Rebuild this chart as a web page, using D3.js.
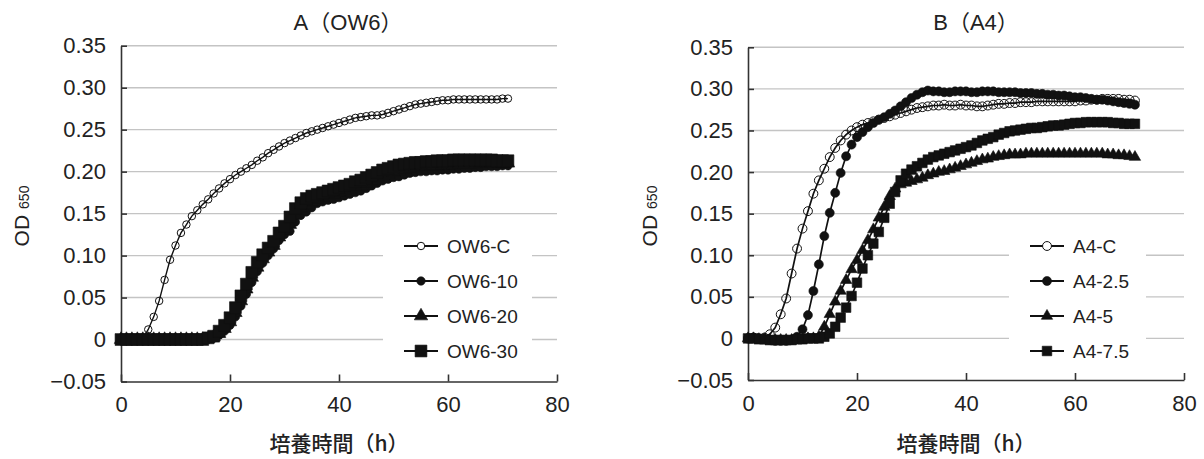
<!DOCTYPE html>
<html>
<head>
<meta charset="utf-8">
<script src="https://cdn.jsdelivr.net/npm/d3@7"></script>
<style>
  body { margin: 0; background: #fff; }
  svg text { font-family: "Liberation Sans", Arial, Helvetica, sans-serif; fill: #222; }
  .cjk { font-family: "Liberation Sans", "Noto Sans CJK JP", sans-serif; }
</style>
</head>
<body>
<svg id="chart" width="1204" height="459"></svg>
<script>
// Sampling times (h)
const hours = [0,1,2,3,4,5,6,7,8,9,10,11,12,13,14,15,16,17,18,19,20,21,22,23,24,25,26,27,28,29,30,31,32,33,34,35,
  36,37,38,39,40,41,42,43,44,45,46,47,48,49,50,51,52,53,54,55,56,57,58,59,60,61,62,63,64,65,66,67,68,69,70,71];

const xTicks = [0, 20, 40, 60, 80];
const yTicks = [-0.05, 0, 0.05, 0.10, 0.15, 0.20, 0.25, 0.30, 0.35];
const yTickLabels = ["\u22120.05", "0", "0.05", "0.10", "0.15", "0.20", "0.25", "0.30", "0.35"];

// Panel A : strain OW6
const ow6C = [0.000,0.000,0.000,0.000,0.001,0.012,0.027,0.046,0.071,0.095,0.112,0.127,0.137,0.147,0.154,0.161,0.167,0.174,
  0.180,0.186,0.191,0.196,0.200,0.204,0.208,0.213,0.217,0.222,0.226,0.230,0.234,0.237,0.240,0.243,0.246,0.248,
  0.250,0.252,0.254,0.256,0.258,0.260,0.262,0.264,0.265,0.266,0.267,0.267,0.268,0.270,0.272,0.274,0.276,0.278,
  0.280,0.281,0.282,0.283,0.284,0.285,0.285,0.286,0.286,0.286,0.286,0.286,0.286,0.286,0.286,0.286,0.287,0.287];
const ow610 = [0,0,0,0,0,0,0,0,0,0,0,0,0,0,0,0,0.001,0.002,
  0.005,0.010,0.017,0.027,0.040,0.054,0.068,0.081,0.091,0.100,0.108,0.118,0.125,0.129,0.140,0.148,0.152,0.157,
  0.162,0.164,0.166,0.167,0.169,0.171,0.173,0.175,0.177,0.180,0.183,0.186,0.189,0.191,0.193,0.194,0.196,0.198,
  0.199,0.200,0.200,0.201,0.201,0.202,0.202,0.203,0.203,0.204,0.204,0.205,0.205,0.206,0.206,0.206,0.207,0.207];
const ow620 = [0,0,0,0,0,0,0,0,0,0,0,0,0,0,0,0,0.001,0.003,
  0.007,0.013,0.021,0.032,0.046,0.060,0.074,0.086,0.096,0.104,0.112,0.122,0.130,0.137,0.148,0.156,0.160,0.164,
  0.167,0.170,0.172,0.173,0.175,0.177,0.179,0.181,0.183,0.186,0.189,0.192,0.195,0.197,0.199,0.201,0.202,0.204,
  0.205,0.206,0.206,0.207,0.207,0.208,0.208,0.208,0.209,0.209,0.209,0.209,0.210,0.210,0.210,0.210,0.210,0.210];
const ow630 = [0,0,0,0,0,0,0,0,0,0,0,0,0,0,0,0,0.002,0.004,
  0.010,0.017,0.026,0.038,0.052,0.066,0.080,0.092,0.101,0.109,0.117,0.127,0.135,0.146,0.156,0.163,0.168,0.171,
  0.173,0.175,0.177,0.179,0.181,0.183,0.185,0.188,0.190,0.193,0.196,0.199,0.202,0.204,0.206,0.208,0.209,0.210,
  0.211,0.211,0.212,0.212,0.213,0.213,0.213,0.214,0.214,0.214,0.214,0.214,0.214,0.214,0.214,0.213,0.213,0.213];

// Panel B : strain A4
const a4C = [0.000,0.001,0.000,0.001,0.005,0.013,0.029,0.048,0.078,0.108,0.132,0.153,0.174,0.190,0.204,0.218,0.229,0.238,
  0.245,0.250,0.254,0.257,0.259,0.261,0.263,0.265,0.267,0.269,0.271,0.273,0.275,0.277,0.278,0.279,0.280,0.280,
  0.281,0.280,0.280,0.281,0.280,0.280,0.279,0.279,0.280,0.281,0.282,0.282,0.283,0.283,0.284,0.284,0.284,0.285,
  0.285,0.285,0.285,0.285,0.285,0.285,0.285,0.286,0.286,0.287,0.287,0.288,0.288,0.288,0.288,0.287,0.287,0.286];
const a425 = [0.000,0.001,0.000,-0.001,-0.002,-0.003,-0.003,-0.003,-0.002,0.002,0.011,0.028,0.057,0.089,0.123,0.151,0.175,0.199,
  0.219,0.233,0.242,0.248,0.254,0.259,0.263,0.266,0.270,0.274,0.279,0.284,0.289,0.293,0.296,0.298,0.297,0.297,
  0.296,0.296,0.297,0.297,0.297,0.296,0.296,0.297,0.297,0.297,0.296,0.296,0.296,0.296,0.295,0.295,0.295,0.294,
  0.294,0.293,0.293,0.292,0.292,0.291,0.290,0.290,0.289,0.288,0.287,0.287,0.286,0.285,0.284,0.283,0.282,0.281];
const a45 = [0.000,0.000,-0.001,-0.001,-0.002,-0.002,-0.002,-0.002,-0.002,-0.001,-0.001,0.000,0.000,0.002,0.014,0.029,0.044,0.057,
  0.070,0.083,0.094,0.106,0.118,0.131,0.145,0.158,0.171,0.180,0.185,0.187,0.189,0.191,0.193,0.196,0.198,0.200,
  0.201,0.203,0.205,0.207,0.209,0.211,0.213,0.215,0.216,0.218,0.219,0.220,0.221,0.221,0.221,0.222,0.222,0.222,
  0.222,0.222,0.222,0.222,0.222,0.222,0.222,0.222,0.222,0.222,0.222,0.222,0.221,0.221,0.220,0.220,0.219,0.218];
const a475 = [0.000,0.000,-0.001,-0.001,-0.002,-0.002,-0.002,-0.002,-0.002,-0.001,-0.001,0.000,0.000,0.000,0.002,0.006,0.014,0.025,
  0.037,0.051,0.067,0.084,0.100,0.114,0.128,0.145,0.162,0.176,0.190,0.198,0.203,0.207,0.211,0.215,0.218,0.220,
  0.222,0.224,0.226,0.228,0.230,0.232,0.235,0.238,0.240,0.242,0.245,0.247,0.249,0.250,0.251,0.252,0.253,0.253,
  0.254,0.255,0.256,0.256,0.257,0.258,0.259,0.259,0.260,0.260,0.260,0.260,0.260,0.259,0.259,0.258,0.258,0.258];

const panels = [
  {
    title: "A\uFF08OW6\uFF09",
    xRange: [121, 557], yRange: [381.5, 45.7],
    yLabelX: 29, titleX: 348,
    legend: { x: 383, w: 149, y: 226, h: 140, lineX: 404, rowY: [246, 281, 316, 351] },
    lineWidth: 1.4,
    series: [
      { name: "OW6-C",  values: ow6C,  shape: "open",     size: 44 },
      { name: "OW6-10", values: ow610, shape: "circle",   size: 56 },
      { name: "OW6-20", values: ow620, shape: "triangle", size: 78 },
      { name: "OW6-30", values: ow630, shape: "square",   size: 140 }
    ]
  },
  {
    title: "B\uFF08A4\uFF09",
    xRange: [748, 1184], yRange: [380, 47.3],
    yLabelX: 657, titleX: 976,
    legend: { x: 1009, w: 137, y: 226, h: 140, lineX: 1030, rowY: [246, 281, 316, 351] },
    lineWidth: 1.7,
    series: [
      { name: "A4-C",   values: a4C,  shape: "open",     size: 62 },
      { name: "A4-2.5", values: a425, shape: "circle",   size: 64 },
      { name: "A4-5",   values: a45,  shape: "triangle", size: 56 },
      { name: "A4-7.5", values: a475, shape: "square",   size: 92 }
    ]
  }
];

const symbolType = { open: d3.symbolCircle, circle: d3.symbolCircle, triangle: d3.symbolTriangle, square: d3.symbolSquare };

const svg = d3.select("#chart");

function drawMarker(sel, s, legend) {
  sel.attr("d", d3.symbol().type(symbolType[s.shape]).size(s.size)())
    .attr("fill", s.shape === "open" ? (legend ? "#fff" : "none") : "#111")
    .attr("stroke", "#111")
    .attr("stroke-width", s.shape === "open" ? 1 : 0.6);
}

panels.forEach(p => {
  const x = d3.scaleLinear().domain([0, 80]).range(p.xRange);
  const y = d3.scaleLinear().domain([-0.05, 0.35]).range(p.yRange);
  const g = svg.append("g");

  // horizontal gridlines
  g.append("g").selectAll("line")
    .data(yTicks.filter(v => v > -0.05))
    .join("line")
    .attr("x1", x(0)).attr("x2", x(80))
    .attr("y1", d => y(d)).attr("y2", d => y(d))
    .attr("stroke", "#c4c4c4").attr("stroke-width", 1.4);

  // legend backing
  g.append("rect")
    .attr("x", p.legend.x).attr("y", p.legend.y)
    .attr("width", p.legend.w).attr("height", p.legend.h)
    .attr("fill", "#fff");

  // axes
  const yAxis = d3.axisLeft(y).tickValues(yTicks)
    .tickFormat((d, i) => yTickLabels[i]).tickSizeInner(-6).tickSizeOuter(0).tickPadding(15);
  const xAxis = d3.axisBottom(x).tickValues(xTicks).tickSizeInner(-7).tickSizeOuter(0).tickPadding(15);

  const ya = g.append("g").attr("transform", `translate(${x(0)},0)`).call(yAxis);
  const xa = g.append("g").attr("transform", `translate(0,${y(-0.05)})`).call(xAxis);
  [ya, xa].forEach(a => {
    a.select(".domain").attr("stroke", "#333").attr("stroke-width", 1.6);
    a.selectAll(".tick line").attr("stroke", "#333").attr("stroke-width", 1.6);
    a.selectAll(".tick text").attr("font-size", 22).attr("fill", "#222")
      .style("font-family", '"Liberation Sans", Arial, sans-serif');
  });

  // series lines + markers
  const line = d3.line().x((d, i) => x(hours[i])).y(d => y(d));
  p.series.forEach(s => {
    g.append("path").datum(s.values)
      .attr("d", line).attr("fill", "none")
      .attr("stroke", "#111").attr("stroke-width", p.lineWidth);
    g.append("g").selectAll("path")
      .data(s.values)
      .join("path")
      .attr("transform", (d, i) => `translate(${x(hours[i])},${y(d)})`)
      .call(drawMarker, s, false);
  });

  // legend
  const lg = g.append("g");
  p.series.forEach((s, i) => {
    const ly = p.legend.rowY[i];
    lg.append("line")
      .attr("x1", p.legend.lineX).attr("x2", p.legend.lineX + 34)
      .attr("y1", ly).attr("y2", ly)
      .attr("stroke", "#111").attr("stroke-width", 2);
    lg.append("path")
      .attr("transform", `translate(${p.legend.lineX + 17},${ly})`)
      .call(drawMarker, s, true);
    lg.append("text")
      .attr("x", p.legend.lineX + 43).attr("y", ly).attr("dy", "0.35em")
      .attr("font-size", 19).text(s.name);
  });

  // title
  g.append("text").attr("class", "cjk")
    .attr("x", p.titleX).attr("y", 30)
    .attr("text-anchor", "middle").attr("font-size", 22)
    .text(p.title);

  // x-axis title
  g.append("text").attr("class", "cjk")
    .attr("x", (p.xRange[0] + p.xRange[1]) / 2).attr("y", 451)
    .attr("text-anchor", "middle").attr("font-size", 21).attr("font-weight", 500)
    .style("font-family", '"Noto Sans CJK JP", sans-serif')
    .text("培養時間\uFF08h\uFF09");

  // y-axis title
  const yt = g.append("text")
    .attr("transform", `translate(${p.yLabelX},216) rotate(-90)`)
    .attr("text-anchor", "middle").attr("font-size", 21);
  yt.append("tspan").text("OD");
  yt.append("tspan").attr("dx", 6).attr("font-size", 14).text("650");
});
</script>
</body>
</html>
